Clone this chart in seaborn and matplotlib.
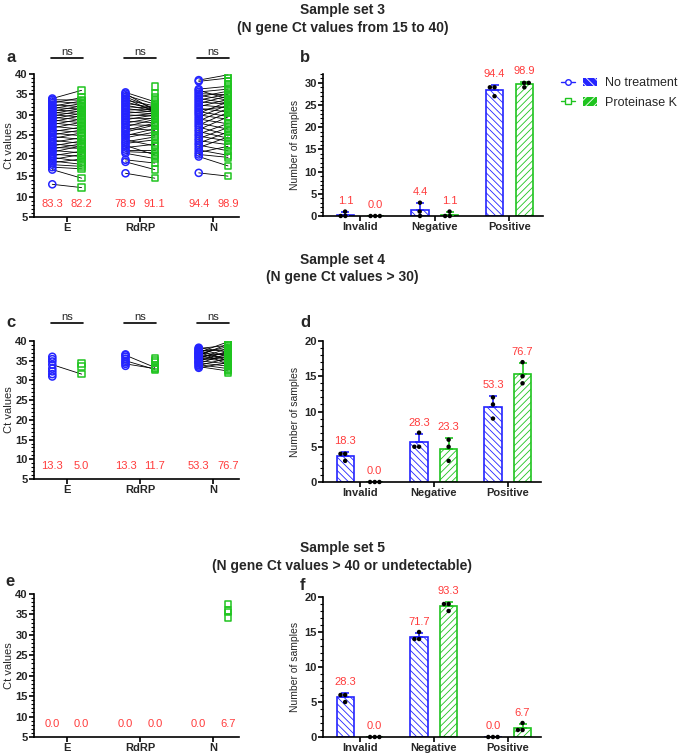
import numpy as np
import pandas as pd
import matplotlib
matplotlib.use("Agg")
import matplotlib.pyplot as plt
import seaborn as sns
from matplotlib.lines import Line2D
from matplotlib.patches import Patch
from matplotlib.legend_handler import HandlerTuple
from matplotlib.ticker import MultipleLocator

nan = np.nan

genes = ["E", "RdRP", "N"]
results = ["Invalid", "Negative", "Positive"]
treatments = ["No treatment", "Proteinase K"]

# ---- Sample set 3: paired Ct values (no treatment, proteinase K), nan = undetected
E3_nt = [13.0, 16.6, 17.2, 17.8, 18.3, 18.7, 19.1, 19.6, 20.0, 20.4, 20.9, 21.3, 21.7, 22.0, 22.4,
         22.9, 23.3, 23.8, 24.2, 24.7, 25.1, 25.5, 25.9, 26.3, 26.8, 27.2, 27.6, 28.0, 28.3, 28.7,
         29.0, 29.4, 29.7, 30.0, 30.3, 30.6, 30.9, 31.2, 31.5, 31.8, 32.1, 32.5, 32.9, 33.3, 33.7,
         34.0, 21.0, 26.0, 29.2, nan, nan, nan]
E3_pk = [12.2, 14.5, 16.8, 17.4, 19.2, 17.9, 20.3, 18.6, 21.1, 19.8, 22.4, 20.7, 22.9, 21.8, 23.6,
         22.2, 24.4, 23.0, 25.6, 24.0, 26.3, 24.9, 27.0, 25.7, 28.2, 26.5, 29.0, 27.3, 29.8, 28.1,
         30.4, 28.8, 31.0, 29.5, 31.6, 30.1, 32.2, 30.8, 32.8, 31.4, 33.4, 32.0, 34.2, 32.8, 33.6,
         36.0, nan, nan, nan, 20.0, 27.8, 31.0]
R3_nt = [15.7, 18.5, 19.0, 20.6, 21.0, 21.5, 22.0, 22.5, 23.0, 23.4, 23.9, 24.4, 24.9, 25.3, 25.8,
         26.2, 26.7, 27.1, 27.6, 28.0, 28.4, 28.8, 29.2, 29.6, 30.0, 30.4, 30.8, 31.2, 31.6, 32.0,
         32.4, 32.8, 33.2, 33.6, 34.0, 34.4, 34.8, 35.2, 35.5, nan, nan, nan, nan, nan]
R3_pk = [14.5, 16.6, 18.2, 19.3, 20.7, 21.5, 22.8, 20.2, 23.9, 24.6, 22.4, 25.8, 26.6, 24.9, 27.5,
         28.0, 26.2, 28.9, 27.4, 29.3, 28.1, 30.0, 29.1, 30.4, 29.7, 31.0, 30.2, 31.3, 30.6, 31.6,
         30.9, 31.8, 31.2, 32.2, 30.7, 31.5, 32.6, 31.1, 33.2, 37.0, 35.4, 34.3, 33.6, 19.9]
N3_nt = [15.8, 19.8, 20.3, 20.8, 21.4, 22.0, 22.6, 23.1, 23.7, 24.2, 24.8, 25.3, 25.9, 26.4, 27.0,
         27.5, 28.0, 28.5, 29.0, 29.5, 30.0, 30.4, 30.8, 31.2, 31.6, 32.0, 32.4, 32.8, 33.2, 33.6,
         34.0, 34.4, 34.8, 35.2, 35.6, 36.0, 36.3, 38.2, 38.5, nan, nan]
N3_pk = [15.0, 17.5, 19.6, 22.3, 20.1, 24.6, 21.2, 25.8, 22.7, 26.9, 23.6, 27.9, 24.3, 29.5, 25.1,
         30.6, 26.5, 31.6, 27.8, 32.4, 28.9, 33.2, 29.6, 32.0, 30.7, 33.8, 31.8, 34.6, 32.6, 35.1,
         32.9, 35.8, 33.6, 34.9, 36.3, 33.9, 37.0, 39.0, 39.8, 38.2, 37.6]

# ---- Sample set 4
E4_nt = [31.0, 31.6, 32.3, 33.0, 34.0, 34.8, 35.4, 36.0, nan, nan]
E4_pk = [nan, nan, nan, nan, 31.6, nan, nan, nan, 33.5, 34.3]
R4_nt = [33.7, 34.2, 34.6, 35.0, 35.5, 36.0, 36.4, 36.6, nan, nan, nan, nan]
R4_pk = [nan, 33.0, nan, 32.8, nan, nan, 33.3, nan, 33.8, 34.5, 35.0, 35.6]
N4_nt = [33.2, 33.5, 33.8, 34.0, 34.3, 34.5, 34.8, 35.0, 35.2, 35.5, 35.7, 35.9, 36.1, 36.3, 36.5,
         36.7, 36.9, 37.1, 37.3, 37.5, 37.7, 37.9, 38.1, 38.3, 34.6, 35.8, 36.6, 37.0,
         nan, nan, nan, nan, nan, nan, nan, nan, nan, nan]
N4_pk = [34.5, 32.4, 35.6, 33.0, 36.8, 33.6, 37.5, 34.2, 36.0, 38.2, 34.8, 37.0, 35.2, 39.2, 35.8,
         38.6, 36.4, 39.8, 34.0, 37.8, 35.0, 36.2, 38.9, 37.2, nan, nan, nan, nan,
         32.0, 32.8, 33.4, 34.6, 35.4, 36.6, 37.4, 38.0, 39.5, 33.8]

# ---- Sample set 5
E5_nt, E5_pk = [], []
R5_nt, R5_pk = [], []
N5_nt = [nan, nan, nan, nan]
N5_pk = [34.2, 35.6, 35.9, 37.6]

# positive rates (%) printed under the Ct columns
pos3_nt = [83.3, 78.9, 94.4]
pos3_pk = [82.2, 91.1, 98.9]
pos4_nt = [13.3, 13.3, 53.3]
pos4_pk = [5.0, 11.7, 76.7]
pos5_nt = [0.0, 0.0, 0.0]
pos5_pk = [0.0, 0.0, 6.7]

# ---- test outcome counts per replicate (Invalid, Negative, Positive)
set3_nt = [[1, 0, 0], [3, 1, 0], [29, 29, 27]]
set3_pk = [[0, 0, 0], [1, 0, 0], [30, 30, 29]]
set4_nt = [[4, 4, 3], [7, 5, 5], [12, 11, 9]]
set4_pk = [[0, 0, 0], [6, 5, 3], [17, 15, 14]]
set5_nt = [[6, 6, 5], [15, 14, 14], [0, 0, 0]]
set5_pk = [[0, 0, 0], [19, 19, 18], [2, 1, 1]]

sns.set_theme(style="ticks")
plt.rcParams["font.family"] = ["Liberation Sans", "DejaVu Sans"]
plt.rcParams["font.weight"] = "bold"
plt.rcParams["hatch.linewidth"] = 0.6

BLUE = "#2424ff"
GREEN = "#1fc41f"
RED = "#ff3b3b"
OFF = [-0.2, 0.2]
HATCH = ["\\\\\\\\\\", "/////"]

fig = plt.figure(figsize=(6.85, 7.54), dpi=100)
W, H = 685, 754


def px_axes(l, t, r, b):
    return fig.add_axes([l / W, 1 - b / H, (r - l) / W, (b - t) / H])


def style(ax, ymax, step, ymin=0):
    ax.set_ylim(ymin, ymax)
    ax.yaxis.set_major_locator(MultipleLocator(step))
    ax.yaxis.set_minor_locator(MultipleLocator(1))
    ax.tick_params(axis="both", which="major", length=3.5, width=1.2, labelsize=8, pad=1, color="black")
    ax.tick_params(axis="y", which="minor", length=2, width=0.8, color="black")
    for s in ["left", "bottom"]:
        ax.spines[s].set_linewidth(1.2)
        ax.spines[s].set_color("black")
    sns.despine(ax=ax)


def paired_panel(ax, pairs, pct_nt, pct_pk, ns):
    rows = []
    for gi, gene in enumerate(genes):
        nt, pk = pairs[gi]
        for k, (a, b) in enumerate(zip(nt, pk)):
            rows.append((f"{gene}{k}", treatments[0], gi + OFF[0], a))
            rows.append((f"{gene}{k}", treatments[1], gi + OFF[1], b))
    df = pd.DataFrame(rows, columns=["uid", "treatment", "xpos", "ct"]).dropna()
    if len(df):
        sns.lineplot(data=df, x="xpos", y="ct", units="uid", estimator=None, color="black",
                     lw=0.6, sort=False, ax=ax, legend=False)
    for t, m, c, s in [(treatments[0], "o", BLUE, 26), (treatments[1], "s", GREEN, 22)]:
        sub = df[df.treatment == t]
        if len(sub):
            sns.scatterplot(data=sub, x="xpos", y="ct", marker=m, s=s, color=c, facecolor="none",
                            edgecolor=c, linewidth=1.1, ax=ax, legend=False, zorder=3)
    style(ax, 40, 5, ymin=5)
    ax.set_xlim(-0.45, 2.35)
    ax.set_xticks(range(3), genes)
    ax.set_xlabel("")
    ax.set_ylabel("Ct values", fontsize=8, labelpad=1)
    for gi in range(3):
        ax.text(gi + OFF[0], 8.3, f"{pct_nt[gi]:.1f}", color=RED, fontsize=8, fontweight="normal",
                ha="center", va="center")
        ax.text(gi + OFF[1], 8.3, f"{pct_pk[gi]:.1f}", color=RED, fontsize=8, fontweight="normal",
                ha="center", va="center")
        if ns:
            tr = ax.get_xaxis_transform()
            ax.plot([gi - 0.22, gi + 0.22], [ns, ns], color="black", lw=1.2, transform=tr, clip_on=False)
            ax.text(gi, ns + 0.01, "ns", ha="center", va="bottom", fontsize=8, fontweight="normal",
                    transform=tr)


def bar_panel(ax, nt_counts, pk_counts, ymax):
    rows = []
    for t, counts in zip(treatments, [nt_counts, pk_counts]):
        for r, reps in zip(results, counts):
            for v in reps:
                rows.append((r, t, v))
    df = pd.DataFrame(rows, columns=["result", "treatment", "n"])
    sns.barplot(data=df, x="result", y="n", hue="treatment", order=results, hue_order=treatments,
                errorbar=None, width=0.8, gap=0.42, ax=ax, legend=False)
    stats = df.groupby(["treatment", "result"])["n"].agg(["mean", "std", "sum"])
    totals = df.groupby("treatment")["n"].sum()
    for cont, t, c, h in zip(ax.containers, treatments, [BLUE, GREEN], HATCH):
        for bar, r in zip(cont, results):
            bar.set_facecolor("white")
            bar.set_edgecolor(c)
            bar.set_hatch(h)
            bar.set_linewidth(1.2)
            xc = bar.get_x() + bar.get_width() / 2
            m, sd, s = stats.loc[(t, r)]
            if sd > 0:
                ax.errorbar(xc, m, yerr=[[0], [sd]], color=c, capsize=3.2, lw=1.2, capthick=1.2, zorder=3)
            ax.annotate(f"{100 * s / totals[t]:.1f}", (xc, m + sd), xytext=(0, 8),
                        textcoords="offset points", ha="center", va="center", color=RED,
                        fontsize=8, fontweight="normal", annotation_clip=False)
    sns.swarmplot(data=df, x="result", y="n", hue="treatment", order=results, hue_order=treatments,
                  dodge=True, palette=["black", "black"], size=3.2, ax=ax, legend=False, zorder=4)
    for coll in ax.collections:
        coll.set_clip_on(False)
    style(ax, ymax, 5)
    ax.set_xlim(-0.5, 2.45)
    ax.set_xlabel("")
    ax.set_ylabel("Number of samples", fontsize=7.5, labelpad=3)


ax_a = px_axes(34, 74, 239, 217)
paired_panel(ax_a, [(E3_nt, E3_pk), (R3_nt, R3_pk), (N3_nt, N3_pk)], pos3_nt, pos3_pk, 1.11)
ax_b = px_axes(323, 74, 543, 216)
bar_panel(ax_b, set3_nt, set3_pk, 32)

ax_c = px_axes(34, 341, 239, 479)
paired_panel(ax_c, [(E4_nt, E4_pk), (R4_nt, R4_pk), (N4_nt, N4_pk)], pos4_nt, pos4_pk, 1.13)
ax_d = px_axes(323, 341, 541, 482)
bar_panel(ax_d, set4_nt, set4_pk, 20)

ax_e = px_axes(34, 594, 239, 737)
paired_panel(ax_e, [(E5_nt, E5_pk), (R5_nt, R5_pk), (N5_nt, N5_pk)], pos5_nt, pos5_pk, None)
ax_f = px_axes(323, 597, 541, 737)
bar_panel(ax_f, set5_nt, set5_pk, 20)

# titles and panel letters
for y1, y2, t1, t2 in [(10, 28, "Sample set 3", "(N gene Ct values from 15 to 40)"),
                       (260, 277, "Sample set 4", "(N gene Ct values > 30)"),
                       (548, 566, "Sample set 5", "(N gene Ct values > 40 or undetectable)")]:
    fig.text(0.5, 1 - y1 / H, t1, ha="center", va="center", fontsize=10)
    fig.text(0.5, 1 - y2 / H, t2, ha="center", va="center", fontsize=10)
for letter, x, y in [("a", 6, 57), ("b", 300, 57), ("c", 6, 323), ("d", 300, 323), ("e", 5, 581), ("f", 300, 585)]:
    fig.text(x / W, 1 - y / H, letter, fontsize=12, va="center", ha="left")

handles = [
    (Line2D([], [], color=BLUE, marker="o", mfc="white", ms=4, lw=1),
     Patch(facecolor=BLUE, edgecolor="white", hatch="\\\\\\\\", lw=0)),
    (Line2D([], [], color=GREEN, marker="s", mfc="white", ms=4, lw=1),
     Patch(facecolor=GREEN, edgecolor="white", hatch="////", lw=0)),
]
fig.legend(handles, treatments, handler_map={tuple: HandlerTuple(ndivide=None, pad=0.6)},
           loc="center left", bbox_to_anchor=(561 / W, 1 - 93 / H), frameon=False,
           prop={"size": 9, "weight": "normal"}, handlelength=2.9, handleheight=0.7,
           labelspacing=0.6, borderaxespad=0, borderpad=0, handletextpad=0.6)

fig.savefig("out.png", dpi=100)
